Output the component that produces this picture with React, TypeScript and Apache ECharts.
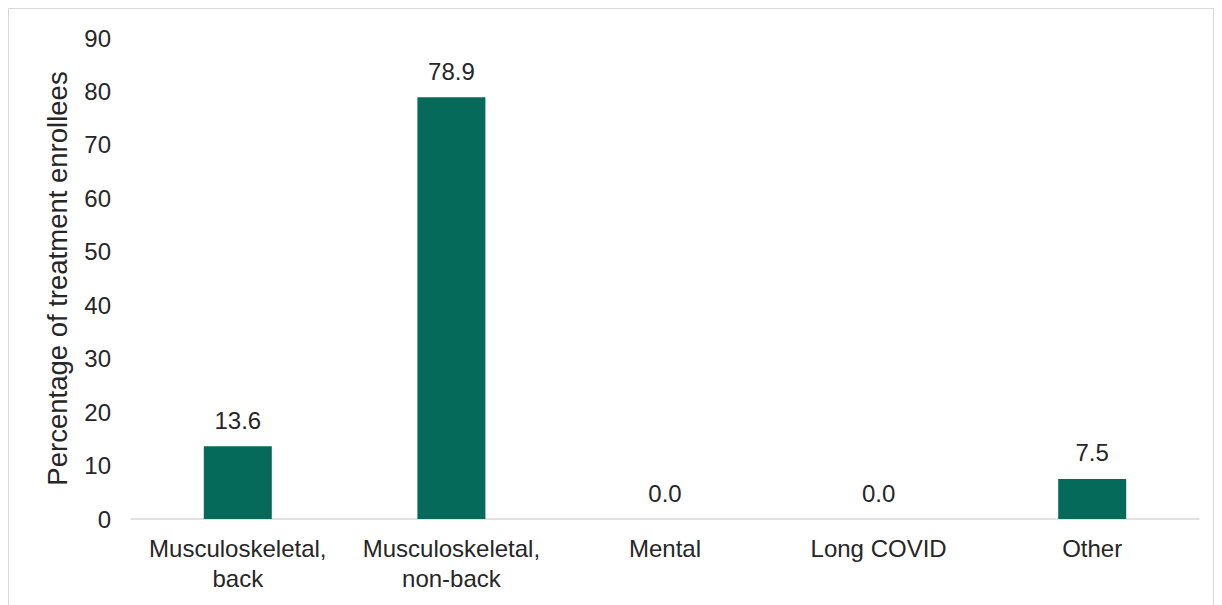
import React, { useEffect, useRef } from "react";
import * as echarts from "echarts";

const categories = ["Musculoskeletal,\nback", "Musculoskeletal,\nnon-back", "Mental", "Long COVID", "Other"];
const values = [13.6, 78.9, 0.0, 0.0, 7.5];
const yTicks = { min: 0, max: 90, interval: 10 };

const FONT = "Liberation Sans, Arial, sans-serif";

export default function App() {
  const ref = useRef<HTMLDivElement>(null);
  useEffect(() => {
    const chart = echarts.init(ref.current!, null, { renderer: "svg" });
    chart.setOption({
      animation: false,
      grid: { left: 122, top: 29, width: 1068, height: 481, containLabel: false },
      xAxis: {
        type: "category",
        data: categories,
        axisLine: { lineStyle: { color: "#d9d9d9", width: 1.5 } },
        axisTick: { show: false },
        axisLabel: {
          color: "#262626",
          fontSize: 24,
          fontFamily: FONT,
          margin: 14,
          lineHeight: 30,
          interval: 0,
        },
      },
      yAxis: {
        type: "value",
        min: yTicks.min,
        max: yTicks.max,
        interval: yTicks.interval,
        splitLine: { show: false },
        axisLine: { show: false },
        axisTick: { show: false },
        name: "Percentage of treatment enrollees",
        nameLocation: "middle",
        nameGap: 60,
        nameTextStyle: { color: "#262626", fontSize: 27.5, fontFamily: FONT },
        axisLabel: {
          color: "#262626",
          fontSize: 24,
          fontFamily: FONT,
          margin: 20,
        },
      },
      series: [
        {
          type: "bar",
          data: values,
          barWidth: 68,
          itemStyle: { color: "#066a5a" },
          label: {
            show: true,
            position: "top",
            distance: 14,
            color: "#262626",
            fontSize: 24,
            fontFamily: FONT,
            formatter: (p: any) => Number(p.value).toFixed(1),
          },
        },
      ],
    });
    return () => chart.dispose();
  }, []);
  return (
    <div
      style={{
        width: 1204,
        height: 600,
        border: "1px solid #d9d9d9",
        background: "#fff",
      }}
    >
      <div ref={ref} style={{ width: 1204, height: 600 }} />
    </div>
  );
}
